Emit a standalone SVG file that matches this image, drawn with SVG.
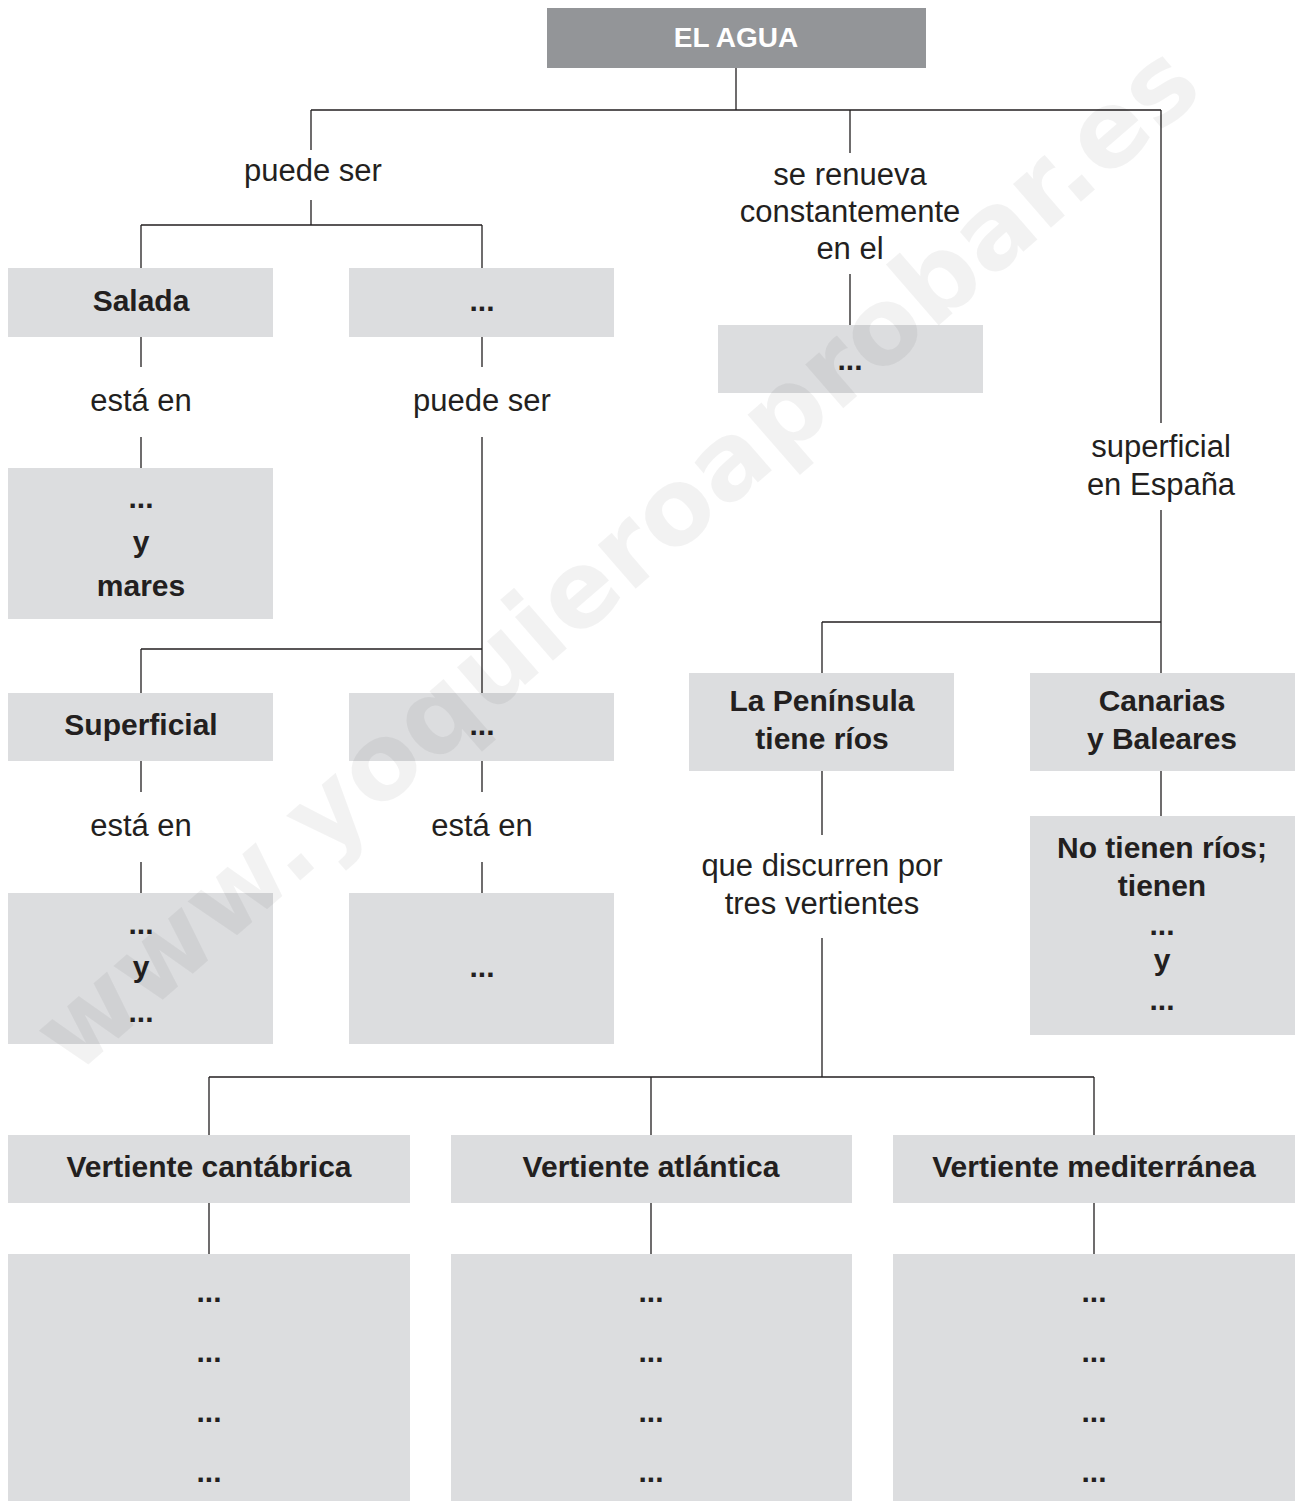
<svg xmlns="http://www.w3.org/2000/svg" width="1295" height="1501" viewBox="0 0 1295 1501">
<style>
.bx{fill:#dcdddf}
.top{fill:#939598}
.ln{stroke:#231f20;stroke-width:1.3;fill:none}
.b{font-family:"Liberation Sans",Arial,sans-serif;font-weight:bold;font-size:30px;fill:#231f20;text-anchor:middle}
.r{font-family:"Liberation Sans",Arial,sans-serif;font-size:31px;fill:#231f20;text-anchor:middle}
.w{font-family:"DejaVu Sans",sans-serif;font-weight:bold;font-size:106px;fill:#000;fill-opacity:0.05;text-anchor:middle}
</style>
<rect width="1295" height="1501" fill="#fff"/>
<g id="connectors">
<path class="ln" d="M736,68V110M311,110H1161M311,110V150M850,110V153M1161,110V423"/>
<path class="ln" d="M311,200V225M141,225H482M141,225V268M482,225V268"/>
<path class="ln" d="M850,274V325"/>
<path class="ln" d="M141,337V367M141,437V468M482,337V367M482,437V693M141,649H482M141,649V693"/>
<path class="ln" d="M141,761V792M141,862V893M482,761V792M482,862V893"/>
<path class="ln" d="M1161,510V673M822,622H1161M822,622V673"/>
<path class="ln" d="M822,771V835M822,938V1077M1161,771V816"/>
<path class="ln" d="M209,1077H1094M209,1077V1135M651,1077V1135M1094,1077V1135"/>
<path class="ln" d="M209,1203V1254M651,1203V1254M1094,1203V1254"/>
</g>
<g id="labels">
<text class="r" x="313" y="181">puede ser</text>
<text class="r" x="850" y="185">se renueva</text>
<text class="r" x="850" y="222">constantemente</text>
<text class="r" x="850" y="259">en el</text>
<text class="r" x="1161" y="457">superficial</text>
<text class="r" x="1161" y="495">en España</text>
<text class="r" x="141" y="411">está en</text>
<text class="r" x="482" y="411">puede ser</text>
<text class="r" x="141" y="836">está en</text>
<text class="r" x="482" y="836">está en</text>
<text class="r" x="822" y="876">que discurren por</text>
<text class="r" x="822" y="914">tres vertientes</text>
</g>
<g id="n-agua"><rect class="top" x="547" y="8" width="379" height="60"/><text class="b" x="736" y="47" style="fill:#fff;font-size:28px">EL AGUA</text></g>
<g id="n-salada"><rect class="bx" x="8" y="268" width="265" height="69"/><text class="b" x="141" y="311">Salada</text></g>
<g id="n-dulce"><rect class="bx" x="349" y="268" width="265" height="69"/><text class="b" x="482" y="311">...</text></g>
<g id="n-ciclo"><rect class="bx" x="718" y="325" width="265" height="68"/><text class="b" x="850" y="370">...</text></g>
<g id="n-oceanos"><rect class="bx" x="8" y="468" width="265" height="151"/><text class="b" x="141" y="508">...</text><text class="b" x="141" y="552">y</text><text class="b" x="141" y="596">mares</text></g>
<g id="n-superficial"><rect class="bx" x="8" y="693" width="265" height="68"/><text class="b" x="141" y="735">Superficial</text></g>
<g id="n-subterranea"><rect class="bx" x="349" y="693" width="265" height="68"/><text class="b" x="482" y="735">...</text></g>
<g id="n-rios"><rect class="bx" x="8" y="893" width="265" height="151"/><text class="b" x="141" y="934">...</text><text class="b" x="141" y="977">y</text><text class="b" x="141" y="1022">...</text></g>
<g id="n-acuiferos"><rect class="bx" x="349" y="893" width="265" height="151"/><text class="b" x="482" y="977">...</text></g>
<g id="n-peninsula"><rect class="bx" x="689" y="673" width="265" height="98"/><text class="b" x="822" y="711">La Península</text><text class="b" x="822" y="749">tiene ríos</text></g>
<g id="n-islas"><rect class="bx" x="1030" y="673" width="265" height="98"/><text class="b" x="1162" y="711">Canarias</text><text class="b" x="1162" y="749">y Baleares</text></g>
<g id="n-islas-det"><rect class="bx" x="1030" y="816" width="265" height="219"/><text class="b" x="1162" y="858">No tienen ríos;</text><text class="b" x="1162" y="896">tienen</text><text class="b" x="1162" y="935">...</text><text class="b" x="1162" y="970">y</text><text class="b" x="1162" y="1010">...</text></g>
<g id="n-cantabrica"><rect class="bx" x="8" y="1135" width="402" height="68"/><text class="b" x="209" y="1177">Vertiente cantábrica</text></g>
<g id="n-atlantica"><rect class="bx" x="451" y="1135" width="401" height="68"/><text class="b" x="651" y="1177">Vertiente atlántica</text></g>
<g id="n-mediterranea"><rect class="bx" x="893" y="1135" width="402" height="68"/><text class="b" x="1094" y="1177">Vertiente mediterránea</text></g>
<g id="n-cantabrica-rios"><rect class="bx" x="8" y="1254" width="402" height="247"/><text class="b" x="209" y="1302">...</text><text class="b" x="209" y="1362">...</text><text class="b" x="209" y="1422">...</text><text class="b" x="209" y="1482">...</text></g>
<g id="n-atlantica-rios"><rect class="bx" x="451" y="1254" width="401" height="247"/><text class="b" x="651" y="1302">...</text><text class="b" x="651" y="1362">...</text><text class="b" x="651" y="1422">...</text><text class="b" x="651" y="1482">...</text></g>
<g id="n-mediterranea-rios"><rect class="bx" x="893" y="1254" width="402" height="247"/><text class="b" x="1094" y="1302">...</text><text class="b" x="1094" y="1362">...</text><text class="b" x="1094" y="1422">...</text><text class="b" x="1094" y="1482">...</text></g>
<text class="w" x="0" y="0" transform="translate(640,585) rotate(-41)" textLength="1500" lengthAdjust="spacing">www.yoquieroaprobar.es</text>
</svg>
